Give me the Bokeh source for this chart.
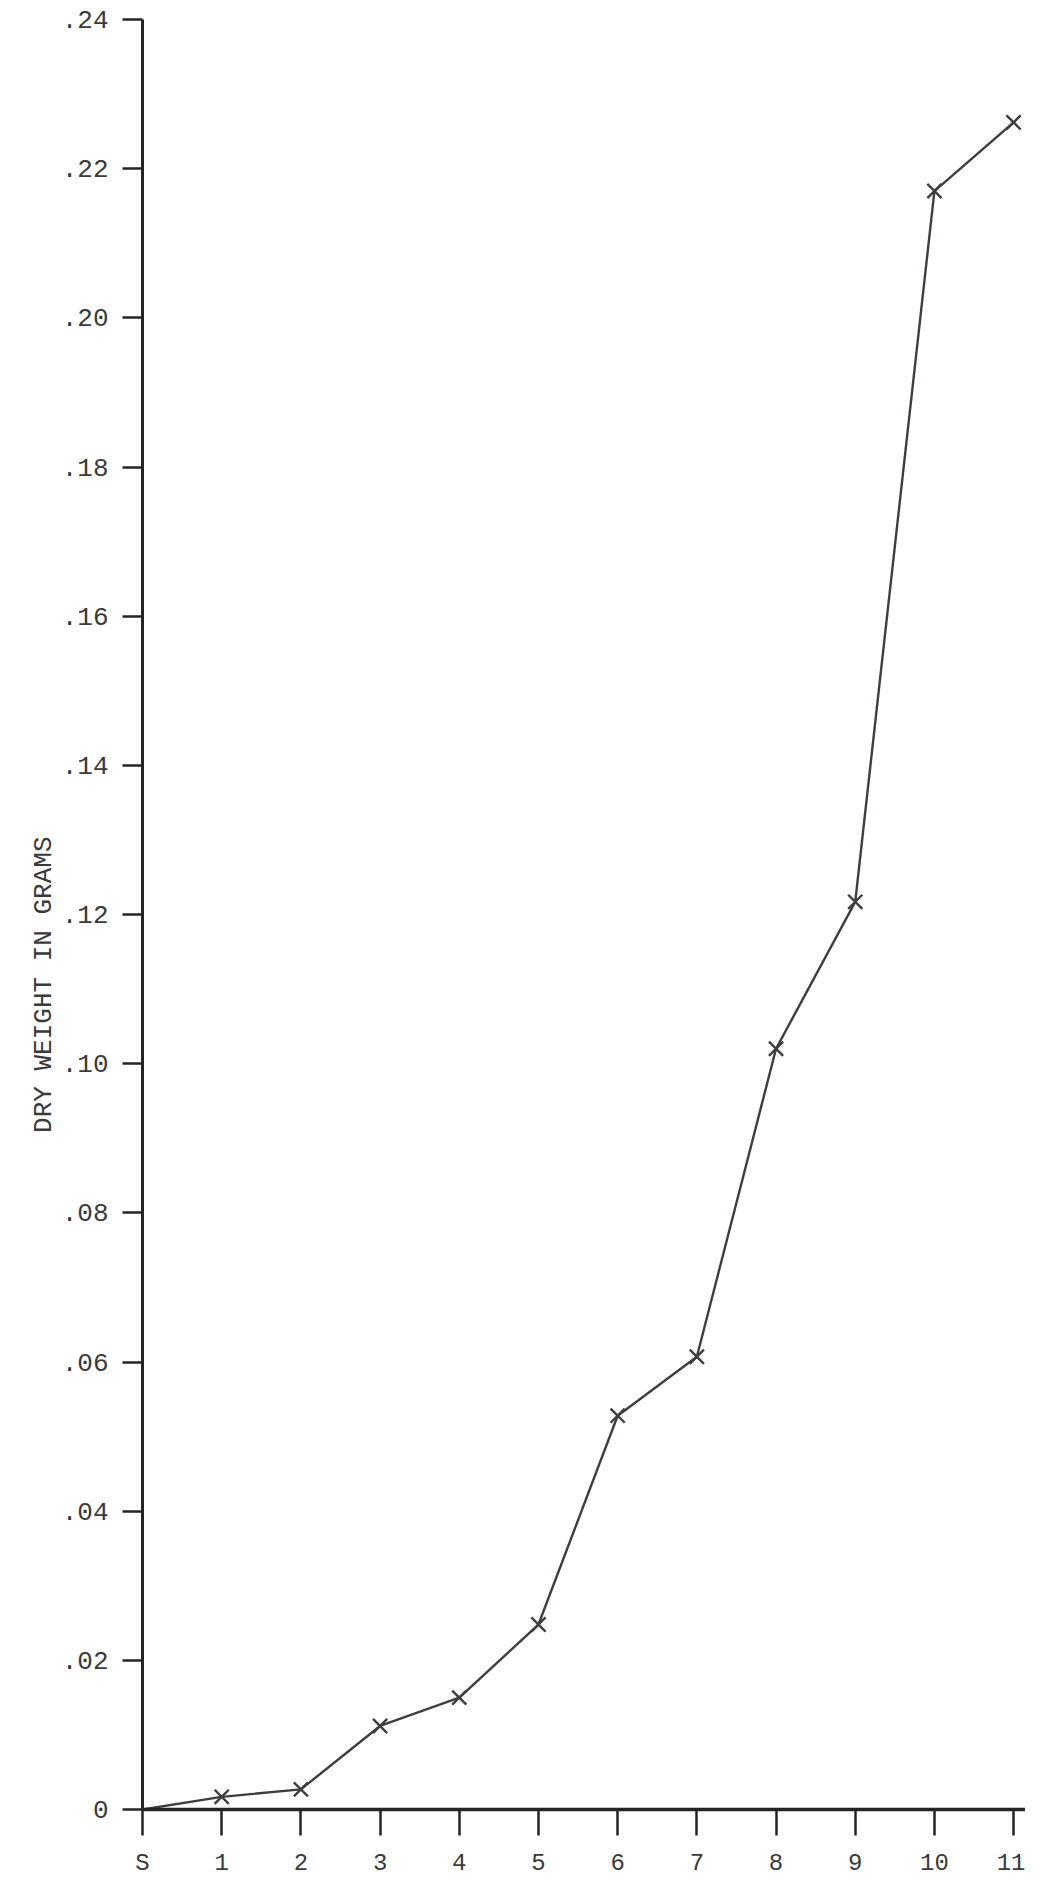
from bokeh.plotting import figure
from bokeh.models import Range1d, FixedTicker
from bokeh.embed import file_html
from bokeh.resources import INLINE

# Data (harvest stage vs dry weight)
stages = [0, 1, 2, 3, 4, 5, 6, 7, 8, 9, 10, 11]
stage_labels = ["S", "1", "2", "3", "4", "5", "6", "7", "8", "9", "10", "11"]
dry_weight = [0.0, 0.0017, 0.0027, 0.0112, 0.0150, 0.0248, 0.0528, 0.0607,
              0.1020, 0.1217, 0.2170, 0.2262]
y_ticks = [0.0, 0.02, 0.04, 0.06, 0.08, 0.10, 0.12, 0.14, 0.16, 0.18, 0.20, 0.22, 0.24]
y_tick_labels = ["0", ".02", ".04", ".06", ".08", ".10", ".12", ".14", ".16",
                 ".18", ".20", ".22", ".24"]
y_title = "DRY WEIGHT IN GRAMS"

FONT = "Liberation Mono"
INK = "#3c403b"
AXIS_INK = "#252525"
TEXT_INK = "#3a3a3a"

p = figure(width=1025, height=1879, output_backend="svg", toolbar_location=None,
           x_range=Range1d(0, 11.15), y_range=Range1d(0, 0.24),
           min_border_left=142, min_border_right=0, min_border_top=19,
           min_border_bottom=68)
p.outline_line_color = None
p.xgrid.visible = False
p.ygrid.visible = False
p.background_fill_color = "white"
p.border_fill_color = "white"

p.line(stages, dry_weight, line_color=INK, line_width=2.4)
p.scatter(stages[1:], dry_weight[1:], marker="x", size=20, line_color=INK, line_width=2.4)

# x axis
p.xaxis.ticker = FixedTicker(ticks=stages)
p.xaxis.major_label_overrides = {s: l for s, l in zip(stages, stage_labels)}
p.xaxis.axis_line_width = 3.5
p.xaxis.axis_line_color = AXIS_INK
p.xaxis.major_tick_line_width = 2.5
p.xaxis.major_tick_line_color = AXIS_INK
p.xaxis.major_tick_out = 26
p.xaxis.major_tick_in = 0
p.xaxis.minor_tick_line_color = None
p.xaxis.major_label_standoff = 14
p.xaxis.major_label_text_font = FONT
p.xaxis.major_label_text_font_size = "24px"
p.xaxis.major_label_text_color = TEXT_INK

# y axis
p.yaxis.ticker = FixedTicker(ticks=y_ticks)
p.yaxis.major_label_overrides = {t: l for t, l in zip(y_ticks, y_tick_labels)}
p.yaxis.axis_line_width = 3
p.yaxis.axis_line_color = AXIS_INK
p.yaxis.major_tick_line_width = 2.5
p.yaxis.major_tick_line_color = AXIS_INK
p.yaxis.major_tick_out = 20
p.yaxis.major_tick_in = 0
p.yaxis.minor_tick_line_color = None
p.yaxis.major_label_standoff = 14
p.yaxis.major_label_text_font = FONT
p.yaxis.major_label_text_font_size = "26px"
p.yaxis.major_label_text_color = TEXT_INK
p.yaxis.axis_label = y_title + "\u00a0" * 9
p.yaxis.axis_label_standoff = 0
p.yaxis.axis_label_text_font = FONT
p.yaxis.axis_label_text_font_size = "26px"
p.yaxis.axis_label_text_font_style = "normal"
p.yaxis.axis_label_text_color = TEXT_INK

open("out.html", "w").write(file_html(p, INLINE))
